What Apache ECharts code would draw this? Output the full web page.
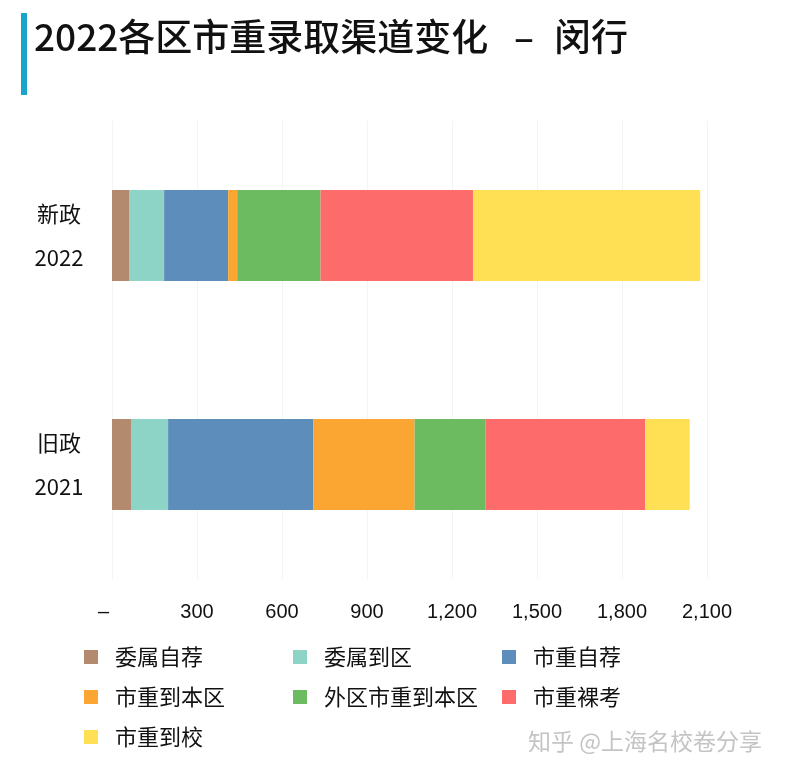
<!DOCTYPE html>
<html>
<head>
<meta charset="utf-8">
<script src="https://cdn.jsdelivr.net/npm/echarts@6/dist/echarts.min.js"></script>
<style>
html,body{margin:0;padding:0;background:#fff;}
#chart{width:786px;height:775px;}
</style>
</head>
<body>
<div id="chart"></div>
<script>
// Categories (bottom to top)
var categories = ['旧政\n2021', '新政\n2022'];
var seriesNames = ['委属自荐', '委属到区', '市重自荐', '市重到本区', '外区市重到本区', '市重裸考', '市重到校'];
// Values per series: [2021, 2022]
var weishuZijian     = [67, 60];
var weishuDaoqu      = [131, 124];
var shizhongZijian   = [512, 226];
var shizhongDaoBenqu = [358, 32];
var waiquDaoBenqu    = [251, 294];
var shizhongLuokao   = [563, 538];
var shizhongDaoxiao  = [157, 802];
var xTicks = [0, 300, 600, 900, 1200, 1500, 1800, 2100];

var values = [weishuZijian, weishuDaoqu, shizhongZijian, shizhongDaoBenqu, waiquDaoBenqu, shizhongLuokao, shizhongDaoxiao];
var colors = ['#b38a6e', '#8dd3c6', '#5d8dbb', '#fba632', '#6cbb60', '#fd6b6a', '#ffe054'];

var chart = echarts.init(document.getElementById('chart'));
var cjk = '"Noto Sans CJK SC", "Noto Sans", sans-serif';

var option = {
  backgroundColor: '#ffffff',
  animation: false,
  color: colors,
  graphic: [
    { type: 'rect', left: 21, top: 13, shape: { width: 6, height: 82 }, style: { fill: '#17a5c9' } },
    { type: 'text', left: 34, top: 18, style: { text: '2022各区市重录取渠道变化', font: '500 37px ' + cjk, fill: '#111' } },
    { type: 'text', left: 514, top: 18, style: { text: '–', font: '500 37px ' + cjk, fill: '#111' } },
    { type: 'text', left: 554, top: 18, style: { text: '闵行', font: '500 37px ' + cjk, fill: '#111' } },
    { type: 'text', left: 528, top: 730, style: { text: '知乎 @上海名校卷分享', font: 'normal 23px ' + cjk, fill: '#c4c4c4' } }
  ],
  grid: { left: 112, right: 79, top: 121, bottom: 196, containLabel: false },
  xAxis: {
    type: 'value',
    min: xTicks[0],
    max: xTicks[xTicks.length - 1],
    interval: 300,
    axisLine: { show: false },
    axisTick: { show: false },
    splitLine: { show: true, lineStyle: { color: '#f4f4f4', width: 1 } },
    axisLabel: {
      margin: 23,
      fontSize: 20,
      color: '#111',
      fontFamily: '"Liberation Sans", Arial, sans-serif',
      formatter: function (v) { return v === 0 ? '–   ' : v.toLocaleString('en-US'); }
    }
  },
  yAxis: {
    type: 'category',
    data: categories,
    axisLine: { show: false },
    axisTick: { show: false },
    splitLine: { show: false },
    axisLabel: {
      align: 'center',
      margin: 53,
      fontSize: 22,
      lineHeight: 44,
      color: '#111',
      fontFamily: cjk
    }
  },
  legend: {
    left: 84,
    top: 637,
    width: 680,
    padding: 0,
    itemGap: 0,
    itemWidth: 14,
    itemHeight: 14,
    icon: 'rect',
    data: seriesNames,
    textStyle: {
      fontSize: 22,
      color: '#111',
      fontFamily: cjk,
      lineHeight: 40,
      width: 178,
      padding: [0, 0, 0, 12]
    }
  },
  series: seriesNames.map(function (name, i) {
    return {
      name: name,
      type: 'bar',
      stack: 'total',
      barWidth: 91,
      data: values[i],
      itemStyle: { color: colors[i] }
    };
  })
};
chart.setOption(option);
</script>
</body>
</html>
